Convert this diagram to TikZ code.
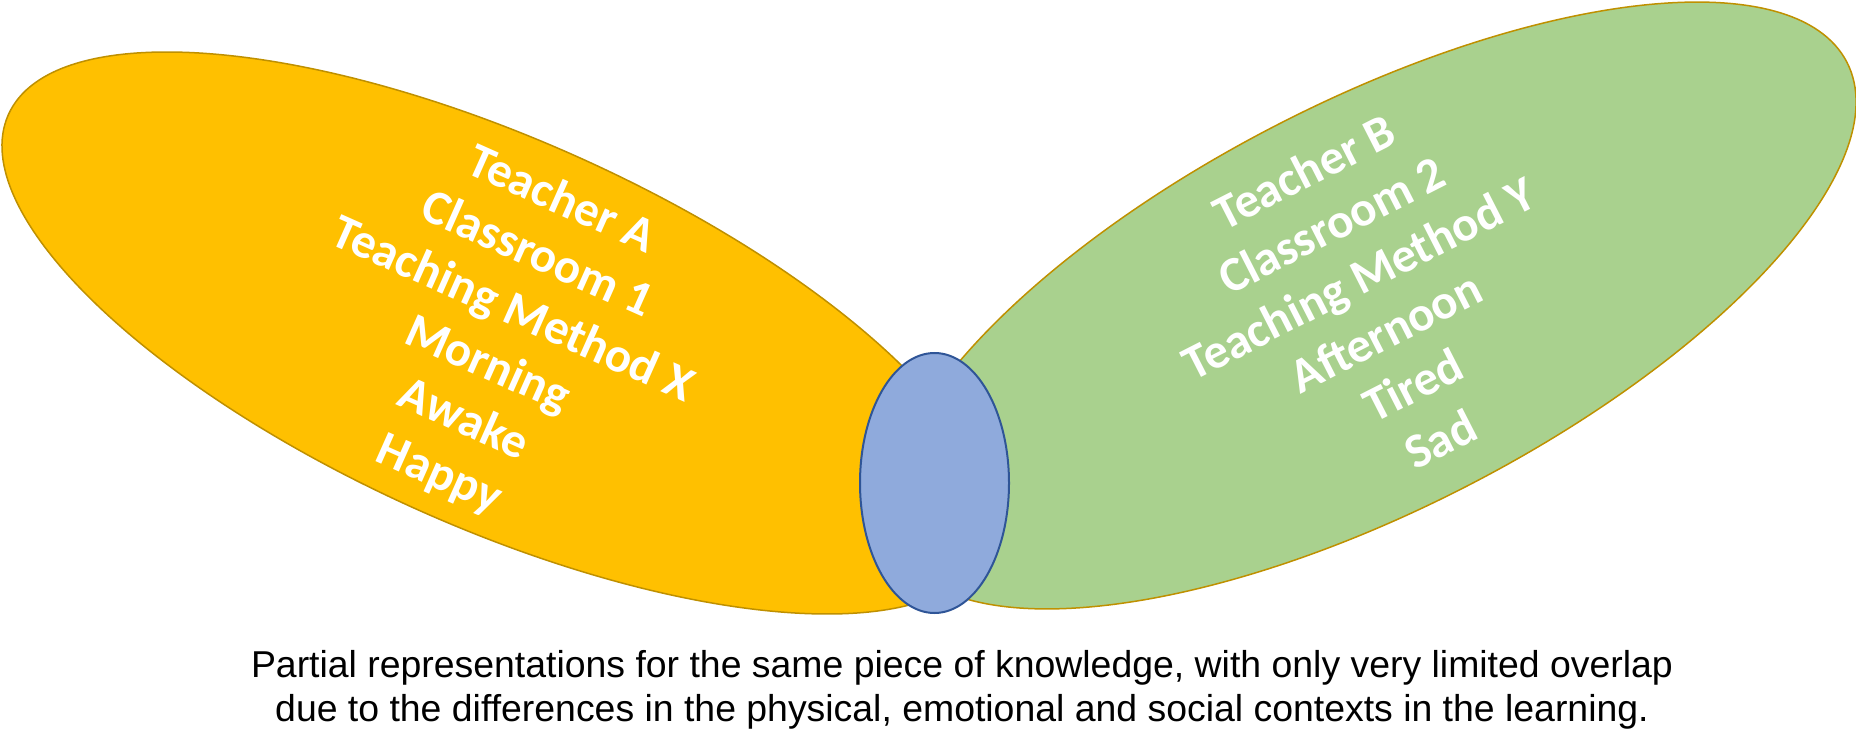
\documentclass[tikz,border=0pt]{standalone}
\usepackage{fontspec}
\setmainfont{Liberation Sans}
\newfontfamily\carlito{Carlito}
\usetikzlibrary{shapes.geometric}
\definecolor{orangefill}{HTML}{FFC000}
\definecolor{greenfill}{HTML}{A9D18E}
\definecolor{bluefill}{HTML}{8FAADC}
\definecolor{goldline}{HTML}{BF9000}
\definecolor{blueline}{HTML}{2F5597}
\tikzset{
  blob/.style={ellipse, inner sep=0pt, outer sep=0pt, line width=1.5pt},
  ctxtext/.style={text=white, align=center, inner sep=0pt,
    font=\carlito\bfseries\fontsize{49}{60}\selectfont},
  captext/.style={anchor=base, inner sep=0pt, font=\fontsize{37.4}{44}\selectfont}
}
\begin{document}
\begin{tikzpicture}[x=1pt,y=-1pt]
\useasboundingbox (0,0) rectangle (1856,754);
\node[blob, draw=goldline, fill=orangefill, minimum width=1070.4pt, minimum height=387.4pt, rotate=-24.08] (left) at (497,333) {};
\node[blob, draw=goldline, fill=greenfill, minimum width=1067.2pt, minimum height=408pt, rotate=27.1] (right) at (1372,305.5) {};
\node[blob, draw=blueline, line width=2pt, fill=bluefill, minimum width=149pt, minimum height=260pt] (overlap) at (934.5,483) {};
\node[ctxtext, rotate=-24] (lefttext) at (500,338) {Teacher A\\Classroom 1\\Teaching Method X\\Morning\\Awake\\Happy};
\node[ctxtext, rotate=27] (righttext) at (1372,305) {Teacher B\\Classroom 2\\Teaching Method Y\\Afternoon\\Tired\\Sad};
\node[captext] (cap1) at (962,677) {Partial representations for the same piece of knowledge, with only very limited overlap};
\node[captext] (cap2) at (962,721) {due to the differences in the physical, emotional and social contexts in the learning.};
\end{tikzpicture}
\end{document}
